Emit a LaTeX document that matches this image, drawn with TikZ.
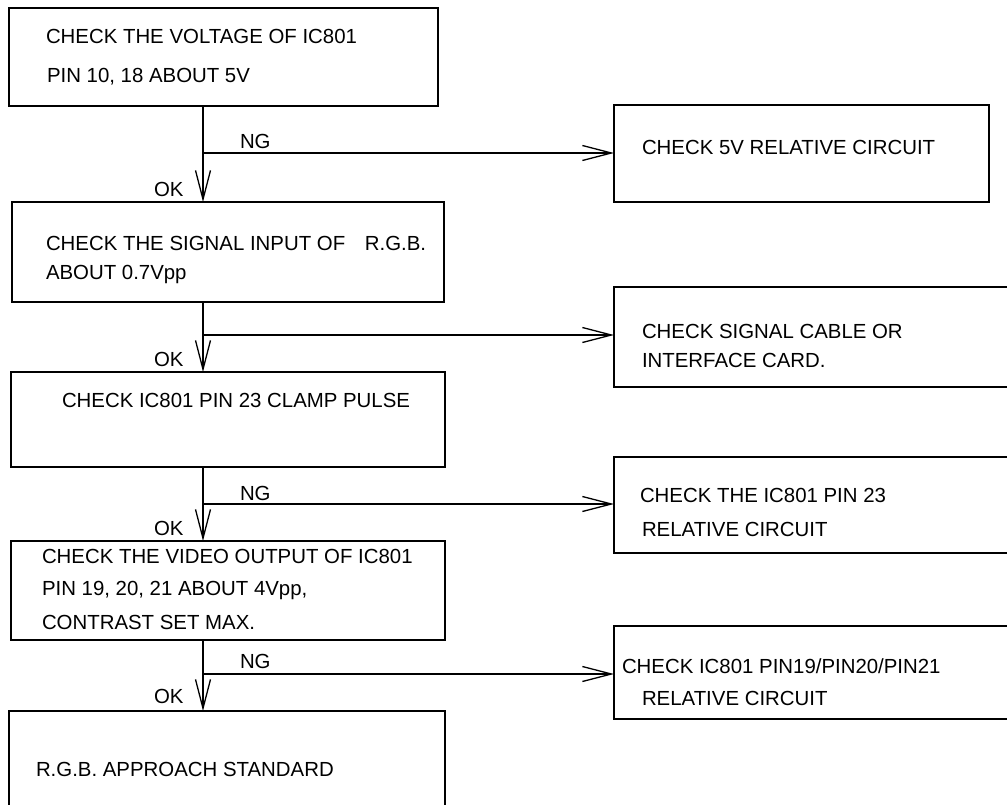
\documentclass[tikz,border=0pt]{standalone}
\usepackage{fontspec}
\setmainfont{Liberation Sans}
\usetikzlibrary{arrows.meta}
\begin{document}
\begin{tikzpicture}[x=1bp,y=-1bp,
  box/.style={draw=black,line width=1.3bp,rectangle,inner sep=0pt,outer sep=0pt},
  txt/.style={anchor=base west,inner sep=0pt,outer sep=0pt,font=\fontsize{20.4bp}{24bp}\selectfont},
  arr/.style={line width=1.3bp,-{Straight Barb[length=29bp,width=15bp,line width=1.3bp]}},
  ln/.style={line width=1.3bp}]
\useasboundingbox[fill=white] (0,0) rectangle (1007,805);
\clip (0,0) rectangle (1007,805);
% left boxes
\node[box,minimum width=429bp,minimum height=98bp] (b1) at (223.5,57) {};
\node[box,minimum width=432bp,minimum height=100bp] (b2) at (228,252) {};
\node[box,minimum width=434bp,minimum height=95bp] (b3) at (228,419.5) {};
\node[box,minimum width=434bp,minimum height=99bp] (b4) at (228,590.5) {};
\node[box,minimum width=436bp,minimum height=119bp] (b5) at (227,770.5) {};
% right boxes
\node[box,minimum width=375bp,minimum height=97bp] (r1) at (801.5,153.5) {};
\node[box,minimum width=406bp,minimum height=100bp] (r2) at (817,337) {};
\node[box,minimum width=406bp,minimum height=96bp] (r3) at (817,505) {};
\node[box,minimum width=406bp,minimum height=93bp] (r4) at (817,672.5) {};
% texts
\node[txt] (t1a) at (46,44) {CHECK THE VOLTAGE OF IC801};
\node[txt] (t1b) at (47,83) {PIN 10, 18 ABOUT 5V};
\node[txt] (t2a) at (46,250) {CHECK THE SIGNAL INPUT OF \hspace{14bp}R.G.B.};
\node[txt] (t2b) at (46,279) {ABOUT 0.7Vpp};
\node[txt] (t3a) at (62,407) {CHECK IC801 PIN 23 CLAMP PULSE};
\node[txt] (t4a) at (42,563) {CHECK THE VIDEO OUTPUT OF IC801};
\node[txt] (t4b) at (42,595) {PIN 19, 20, 21 ABOUT 4Vpp,};
\node[txt] (t4c) at (42,629) {CONTRAST SET MAX.};
\node[txt] (t5a) at (36,776) {R.G.B. APPROACH STANDARD};
\node[txt] (s1a) at (642,154) {CHECK 5V RELATIVE CIRCUIT};
\node[txt] (s2a) at (642,338) {CHECK SIGNAL CABLE OR};
\node[txt] (s2b) at (642,367) {INTERFACE CARD.};
\node[txt] (s3a) at (640,502) {CHECK THE IC801 PIN 23};
\node[txt] (s3b) at (642,536) {RELATIVE CIRCUIT};
\node[txt] (s4a) at (622,673) {CHECK IC801 PIN19/PIN20/PIN21};
\node[txt] (s4b) at (642,705) {RELATIVE CIRCUIT};
% labels
\node[txt] (ng1) at (240,148) {NG};
\node[txt] (ng3) at (240,500) {NG};
\node[txt] (ng4) at (240,668) {NG};
\node[txt] (ok1) at (154,196) {OK};
\node[txt] (ok2) at (154,366) {OK};
\node[txt] (ok3) at (154,535) {OK};
\node[txt] (ok4) at (154,703) {OK};
% spine coordinates
\coordinate (sp) at (203,0);
\coordinate (j1) at (203,153);
\coordinate (j2) at (203,335);
\coordinate (j3) at (203,504);
\coordinate (j4) at (203,674);
% vertical connectors
\draw[arr] (b1.south -| sp) -- (b2.north -| sp);
\draw[arr] (b2.south -| sp) -- (b3.north -| sp);
\draw[arr] (b3.south -| sp) -- (b4.north -| sp);
\draw[arr] (b4.south -| sp) -- (b5.north -| sp);
% NG branches
\draw[arr] (j1) -- (j1 -| r1.west);
\draw[arr] (j2) -- (j2 -| r2.west);
\draw[arr] (j3) -- (j3 -| r3.west);
\draw[arr] (j4) -- (j4 -| r4.west);
\end{tikzpicture}
\end{document}
